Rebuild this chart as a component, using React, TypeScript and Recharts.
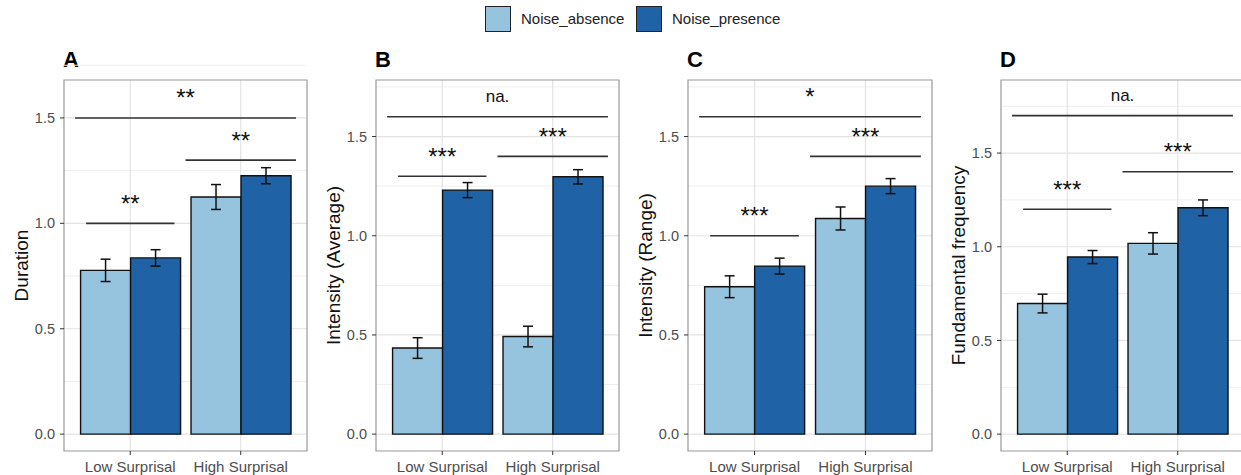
import React from "react";
import {
  Bar,
  BarChart,
  CartesianGrid,
  ErrorBar,
  ReferenceArea,
  ReferenceLine,
  XAxis,
  YAxis,
} from "recharts";

const categories = ["Low Surprisal", "High Surprisal"];
const seriesNames = ["Noise_absence", "Noise_presence"];
const colors = ["#96C3DD", "#1F62A6"];

// panel A - Duration
const durationAbsence = [0.777, 1.125];
const durationPresence = [0.836, 1.226];
const durationAbsenceErr = [0.053, 0.059];
const durationPresenceErr = [0.039, 0.038];

// panel B - Intensity (Average)
const avgAbsence = [0.434, 0.492];
const avgPresence = [1.23, 1.297];
const avgAbsenceErr = [0.052, 0.052];
const avgPresenceErr = [0.038, 0.036];

// panel C - Intensity (Range)
const rangeAbsence = [0.743, 1.087];
const rangePresence = [0.847, 1.25];
const rangeAbsenceErr = [0.055, 0.058];
const rangePresenceErr = [0.04, 0.038];

// panel D - Fundamental frequency
const f0Absence = [0.697, 1.018];
const f0Presence = [0.945, 1.208];
const f0AbsenceErr = [0.05, 0.057];
const f0PresenceErr = [0.035, 0.042];

const yTicks = [0, 0.5, 1, 1.5];
const minorTicks = [0.25, 0.75, 1.25, 1.75];

// significance brackets: [x start, x end, y, label]
type Sig = [number, number, number, string];
const sigA: Sig[] = [
  [0.6, 1.4, 1.0, "**"],
  [1.5, 2.5, 1.3, "**"],
  [0.5, 2.5, 1.5, "**"],
];
const sigB: Sig[] = [
  [0.6, 1.4, 1.3, "***"],
  [1.5, 2.5, 1.4, "***"],
  [0.5, 2.5, 1.6, "na."],
];
const sigC: Sig[] = [
  [0.6, 1.4, 1.0, "***"],
  [1.5, 2.5, 1.4, "***"],
  [0.5, 2.5, 1.6, "*"],
];
const sigD: Sig[] = [
  [0.6, 1.4, 1.2, "***"],
  [1.5, 2.5, 1.4, "***"],
  [0.5, 2.5, 1.7, "na."],
];

const FONT = "'Liberation Sans', Arial, sans-serif";

// discrete positions 1, 2 like ggplot
const makeRows = (abs: number[], pres: number[], absErr: number[], presErr: number[]) =>
  categories.map((name, i) => ({
    pos: i + 1,
    name,
    absence: abs[i],
    presence: pres[i],
    absenceErr: absErr[i],
    presenceErr: presErr[i],
  }));

const SigLabel = (props: any) => {
  const { viewBox, text } = props;
  if (!viewBox) return null;
  const x = viewBox.x + viewBox.width / 2;
  const isStar = text !== "na.";
  return (
    <text
      x={x}
      y={viewBox.y - 20}
      textAnchor="middle"
      dominantBaseline="central"
      fontSize={isStar ? 24 : 17}
      fontFamily={FONT}
      fill="#111"
    >
      {text}
    </text>
  );
};

const AxisTitle = (props: any) => {
  const { viewBox, text } = props;
  if (!viewBox) return null;
  const x = viewBox.x + viewBox.width - 43;
  const y = viewBox.y + viewBox.height / 2;
  return (
    <text
      x={x}
      y={y}
      transform={`rotate(-90, ${x}, ${y})`}
      textAnchor="middle"
      dominantBaseline="central"
      fontSize={19}
      fontFamily={FONT}
      fill="#111"
    >
      {text}
    </text>
  );
};

interface PanelProps {
  tag: string;
  title: string;
  plotLeft: number;
  plotWidth: number;
  yMax: number;
  data: ReturnType<typeof makeRows>;
  sigs: Sig[];
}

function Panel({ tag, title, plotLeft, plotWidth, yMax, data, sigs }: PanelProps) {
  const axisW = 64;
  const width = axisW + plotWidth + 6;
  const lo = -0.05 * yMax;
  const hi = 1.05 * yMax;
  return (
    <div style={{ position: "absolute", left: plotLeft - axisW, top: 0 }}>
      <div
        style={{
          position: "absolute",
          left: axisW - 1,
          top: 48,
          fontSize: 22,
          fontWeight: "bold",
          fontFamily: FONT,
          lineHeight: "24px",
        }}
      >
        {tag}
      </div>
      <BarChart
        width={width}
        height={475}
        data={data}
        margin={{ top: 80, right: 6, left: 0, bottom: 0 }}
        barCategoryGap="5%"
        barGap={0}
      >
        <CartesianGrid
          horizontalValues={minorTicks}
          vertical={false}
          stroke="#EFEFEF"
          strokeWidth={1}
        />
        <CartesianGrid
          horizontalValues={yTicks}
          verticalValues={[1, 2]}
          stroke="#E3E3E3"
          strokeWidth={1.2}
        />
        <XAxis
          dataKey="pos"
          type="number"
          domain={[0.4, 2.6]}
          allowDataOverflow
          ticks={[1, 2]}
          tickFormatter={(v: number) => categories[v - 1] ?? ""}
          height={24}
          tickSize={4}
          tickMargin={6}
          axisLine={false}
          tickLine={{ stroke: "#333" }}
          tick={{ fontSize: 15, fill: "#4D4D4D", fontFamily: FONT }}
          interval={0}
        />
        <YAxis
          type="number"
          domain={[lo, hi]}
          allowDataOverflow
          ticks={yTicks}
          width={axisW}
          tickSize={4}
          tickMargin={5}
          axisLine={false}
          tickLine={{ stroke: "#333" }}
          tick={{ fontSize: 14.5, fill: "#4D4D4D", fontFamily: FONT }}
          tickFormatter={(v: number) => v.toFixed(1)}
          label={<AxisTitle text={title} />}
        />
        <Bar
          dataKey="absence"
          name={seriesNames[0]}
          fill={colors[0]}
          stroke="#111"
          strokeWidth={1.4}
          isAnimationActive={false}
        >
          <ErrorBar dataKey="absenceErr" width={5} stroke="#111" strokeWidth={1.5} />
        </Bar>
        <Bar
          dataKey="presence"
          name={seriesNames[1]}
          fill={colors[1]}
          stroke="#111"
          strokeWidth={1.4}
          isAnimationActive={false}
        >
          <ErrorBar dataKey="presenceErr" width={5} stroke="#111" strokeWidth={1.5} />
        </Bar>
        {sigs.map(([x1, x2, y, label], i) => (
          <ReferenceLine
            key={i}
            segment={[
              { x: x1, y },
              { x: x2, y },
            ]}
            stroke="#333"
            strokeWidth={1.6}
            label={<SigLabel text={label} />}
          />
        ))}
        <ReferenceArea
          x1={0.4}
          x2={2.6}
          y1={lo}
          y2={hi}
          fill="none"
          stroke="#999"
          strokeWidth={1.2}
          ifOverflow="visible"
        />
      </BarChart>
    </div>
  );
}

function LegendRow() {
  const items = [
    { key: 485, text: 521 },
    { key: 636, text: 672 },
  ];
  return (
    <>
      {items.map((it, i) => (
        <React.Fragment key={i}>
          <div
            style={{
              position: "absolute",
              left: it.key,
              top: 6,
              width: 24,
              height: 24,
              background: colors[i],
              border: "1px solid #222",
            }}
          />
          <div
            style={{
              position: "absolute",
              left: it.text,
              top: 9,
              fontSize: 15,
              fontFamily: FONT,
              color: "#222",
              lineHeight: "20px",
            }}
          >
            {seriesNames[i]}
          </div>
        </React.Fragment>
      ))}
    </>
  );
}

export default function App() {
  return (
    <div
      style={{
        position: "absolute",
        left: 0,
        top: 0,
        width: 1241,
        height: 475,
        overflow: "hidden",
        background: "#fff",
      }}
    >
      <LegendRow />
      <Panel
        tag="A"
        title="Duration"
        plotLeft={64}
        plotWidth={243}
        yMax={1.6}
        data={makeRows(durationAbsence, durationPresence, durationAbsenceErr, durationPresenceErr)}
        sigs={sigA}
      />
      <Panel
        tag="B"
        title="Intensity (Average)"
        plotLeft={376}
        plotWidth={243}
        yMax={1.7}
        data={makeRows(avgAbsence, avgPresence, avgAbsenceErr, avgPresenceErr)}
        sigs={sigB}
      />
      <Panel
        tag="C"
        title="Intensity (Range)"
        plotLeft={688}
        plotWidth={244}
        yMax={1.7}
        data={makeRows(rangeAbsence, rangePresence, rangeAbsenceErr, rangePresenceErr)}
        sigs={sigC}
      />
      <Panel
        tag="D"
        title="Fundamental frequency"
        plotLeft={1001}
        plotWidth={243}
        yMax={1.8}
        data={makeRows(f0Absence, f0Presence, f0AbsenceErr, f0PresenceErr)}
        sigs={sigD}
      />
    </div>
  );
}
